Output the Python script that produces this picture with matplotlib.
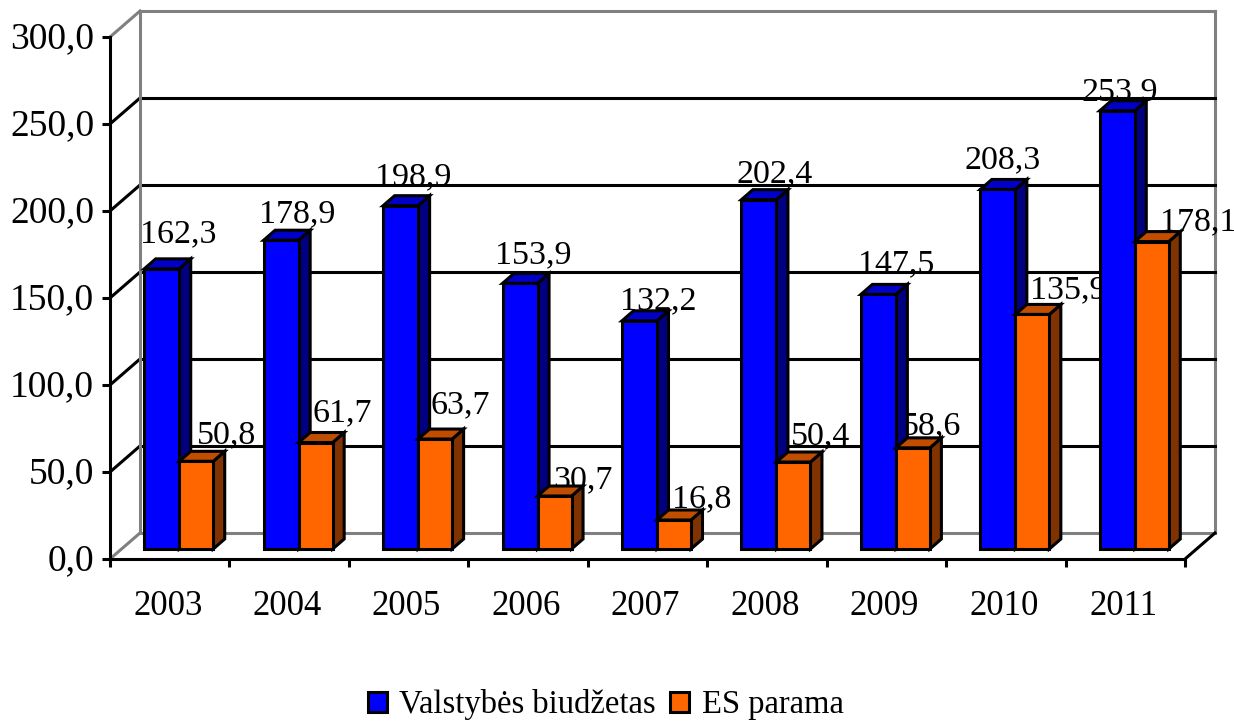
import numpy as np
import matplotlib
matplotlib.use("Agg")
import matplotlib.pyplot as plt
from matplotlib.patches import Patch
from matplotlib.transforms import ScaledTranslation

plt.rcParams['font.family'] = ['Liberation Serif', 'DejaVu Serif']

years = ["2003", "2004", "2005", "2006", "2007", "2008", "2009", "2010", "2011"]
valstybes = [162.3, 178.9, 198.9, 153.9, 132.2, 202.4, 147.5, 208.3, 253.9]
es_parama = [50.8, 61.7, 63.7, 30.7, 16.8, 50.4, 58.6, 135.9, 178.1]
y_ticks = [0, 50, 100, 150, 200, 250, 300]
y_labels = ["0,0", "50,0", "100,0", "150,0", "200,0", "250,0", "300,0"]

# hand placed labels in the original, nudges in pixels
blue_nudge_x = [17, 16, 13, 13, 19, 16, 18, 5, 2]
blue_nudge_y = [33, 24, 26, 26, 18, 23, 28, 27, 15]
orange_nudge_x = [30, 27, 25, 28, 28, 27, 19, 36, 46]
orange_nudge_y = [26, 29, 33, 16, 21, 25, 21, 23, 17]

W, H = 1234, 722
fig = plt.figure(figsize=(W / 100, H / 100), dpi=100)
ax = fig.add_axes([110 / W, 1 - 559 / H, 1075 / W, 522 / H])
ax.set_xlim(0, 9)
ax.set_ylim(0, 300)
ax.patch.set_visible(False)

# pixel to data scale
px = 9 / 1075
py = 300 / 522
lw = 2.2

wall_dx, wall_dy = 30 * px, 26 * py
depth_dx, depth_dy = 11.5 * px, 10 * py
base_dx, base_dy = 9 * px, 10 * py
w_blue, w_orange = 35 * px, 34 * px
# bars come out a bit shorter than the axis scale in the original
bar_k = 0.992


def line(xs, ys, color, z=1):
    ax.plot(xs, ys, color=color, lw=lw, clip_on=False, zorder=z, solid_capstyle="projecting")


# walls and grid
gray = "#808080"
line([0, wall_dx], [0, wall_dy], gray)
line([0, wall_dx], [300, 300 + wall_dy], gray)
line([wall_dx, wall_dx], [wall_dy, 300 + wall_dy], gray, 1.5)
line([wall_dx, 9 + wall_dx], [300 + wall_dy, 300 + wall_dy], gray)
line([9 + wall_dx, 9 + wall_dx], [wall_dy, 300 + wall_dy], gray)
line([wall_dx, 9 + wall_dx], [wall_dy, wall_dy], gray)
line([9, 9 + wall_dx], [0, wall_dy], "black")
for t in y_ticks[1:-1]:
    line([0, wall_dx], [t, t + wall_dy], "black")
    line([wall_dx, 9 + wall_dx], [t + wall_dy, t + wall_dy], "black")


def draw_bar(x, val, width, front, side, top, z):
    y0 = base_dy
    h = val * bar_k
    ax.bar(x, h, width, bottom=y0, align="edge", color=front, edgecolor="black",
           linewidth=lw, clip_on=False, zorder=z + 0.2)
    xr = x + width
    yt = y0 + h
    ax.fill([xr, xr + depth_dx, xr + depth_dx, xr], [y0, y0 + depth_dy, yt + depth_dy, yt],
            facecolor=side, edgecolor="black", linewidth=lw, clip_on=False, zorder=z)
    ax.fill([x, x + depth_dx, xr + depth_dx, xr], [yt, yt + depth_dy, yt + depth_dy, yt],
            facecolor=top, edgecolor="black", linewidth=lw, clip_on=False, zorder=z)


for i in range(len(years)):
    left = i + 0.5 - (w_blue + w_orange) / 2 + base_dx
    z = 5 + i
    draw_bar(left, valstybes[i], w_blue, "#0000FF", "#000080", "#0000C8", z)
    draw_bar(left + w_blue, es_parama[i], w_orange, "#FF6600", "#803300", "#C04D00", z + 0.5)

    ax.text(left + w_blue / 2 + blue_nudge_x[i] * px,
            base_dy + valstybes[i] + blue_nudge_y[i] * py,
            f"{valstybes[i]:.1f}".replace(".", ","), ha="center", va="center",
            fontsize=24.5, clip_on=False, zorder=3)
    ax.text(left + w_blue + w_orange / 2 + orange_nudge_x[i] * px,
            base_dy + es_parama[i] + orange_nudge_y[i] * py,
            f"{es_parama[i]:.1f}".replace(".", ","), ha="center", va="center",
            fontsize=24.5, clip_on=False, zorder=3)

# front axes
for s in ["top", "right"]:
    ax.spines[s].set_visible(False)
for s in ["left", "bottom"]:
    ax.spines[s].set_linewidth(lw)
    ax.spines[s].set_zorder(4)
ax.set_yticks(y_ticks)
ax.set_yticklabels(y_labels, fontsize=27)
ax.set_xticks(np.arange(0, 10))
ax.set_xticklabels([])
ax.set_xticks(np.arange(len(years)) + 0.5, minor=True)
ax.set_xticklabels(years, minor=True, fontsize=25)
ax.tick_params(axis="y", length=5.5, width=lw, pad=6)
ax.tick_params(axis="x", which="major", length=5.5, width=lw)
ax.tick_params(axis="x", which="minor", length=0, pad=22)

for lab in ax.get_yticklabels():
    lab.set_transform(lab.get_transform() + ScaledTranslation(0, 2.5 / 100, fig.dpi_scale_trans))
for lab in ax.get_xticklabels(minor=True):
    lab.set_transform(lab.get_transform() + ScaledTranslation(-2 / 100, 0, fig.dpi_scale_trans))

handles = [Patch(facecolor="#0000FF", edgecolor="black", linewidth=lw),
           Patch(facecolor="#FF6600", edgecolor="black", linewidth=lw)]
fig.legend(handles, ["Valstybės biudžetas", "ES parama"], loc="center",
           bbox_to_anchor=(605.5 / W, 1 - 705 / H), ncol=2, frameon=False, fontsize=23.5,
           handlelength=0.6, handleheight=0.6, handletextpad=0.37, columnspacing=0.43,
           borderpad=0, borderaxespad=0)

fig.savefig("out.png", dpi=100)
